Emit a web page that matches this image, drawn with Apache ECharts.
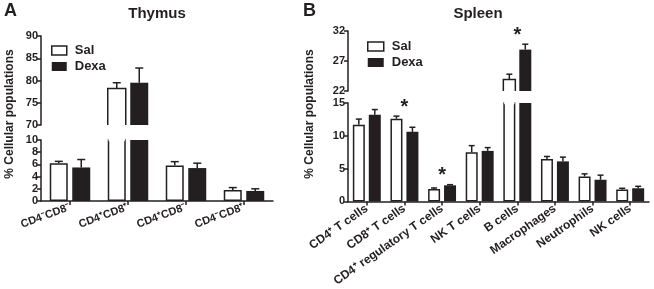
<!DOCTYPE html>
<html>
<head>
<meta charset="utf-8">
<script src="https://cdn.jsdelivr.net/npm/echarts@6/dist/echarts.min.js"></script>
<style>
html, body { margin: 0; padding: 0; background: #fff; }
#chart { width: 654px; height: 289px; }
</style>
</head>
<body>
<div id="chart"></div>
<script>
// Thymus (panel A)
var thymusCats = ['CD4\u207BCD8\u207B', 'CD4\u207ACD8\u207A', 'CD4\u207ACD8\u207B', 'CD4\u207BCD8\u207A'];
var thymusSal = [6.2, 78.2, 5.8, 1.8];
var thymusSalErr = [0.3, 1.3, 0.65, 0.4];
var thymusDexa = [5.5, 79.5, 5.4, 1.65];
var thymusDexaErr = [1.3, 3.3, 0.8, 0.35];
var thymusBreak = [10, 70];          // lower axis max, upper axis min
var thymusTicksLow = [0, 10, 2];     // min, max, interval
var thymusTicksHigh = [70, 90, 5];

// Spleen (panel B)
var spleenCats = ['CD4\u207A T cells', 'CD8\u207A T cells', 'CD4\u207A regulatory T cells', 'NK T cells',
                  'B cells', 'Macrophages', 'Neutrophils', 'NK cells'];
var spleenSal = [11.7, 12.6, 1.9, 7.5, 23.9, 6.45, 3.8, 1.8];
var spleenSalErr = [0.85, 0.4, 0.15, 1.0, 0.9, 0.4, 0.4, 0.2];
var spleenDexa = [13.2, 10.6, 2.45, 7.7, 28.9, 6.1, 3.3, 2.0];
var spleenDexaErr = [0.8, 0.7, 0.1, 0.5, 0.9, 0.65, 0.7, 0.3];
var spleenStars = [1, 2, 4];         // categories marked significant
var spleenBreak = [15, 22];
var spleenTicksLow = [0, 15, 5];
var spleenTicksHigh = [22, 32, 5];

var INK = '#231f20';
var FONT = 'Liberation Sans';

var myChart = echarts.init(document.getElementById('chart'));

var grids = [];
var xAxes = [];
var yAxes = [];
var series = [];
var overlays = []; // drawn last, on top of the bars

function yAxisOf(gi, ticks) {
    return {
        type: 'value', gridIndex: gi,
        min: ticks[0], max: ticks[1], interval: ticks[2],
        axisLine: { show: true, lineStyle: { color: INK, width: 1.5 } },
        axisTick: { show: true, length: 4, lineStyle: { color: INK, width: 1.5 } },
        axisLabel: { color: INK, fontFamily: FONT, fontWeight: 'bold', fontSize: 11, margin: 3 },
        splitLine: { show: false }
    };
}

function xAxisOf(gi, cats, show, rotate, fs) {
    return {
        type: 'category', gridIndex: gi, data: cats, show: show,
        axisLine: { show: show, lineStyle: { color: INK, width: 1.5 } },
        axisTick: { show: show, alignWithLabel: true, length: 4, lineStyle: { color: INK, width: 1.5 } },
        axisLabel: {
            show: show, interval: 0, rotate: rotate, margin: 6,
            color: INK, fontFamily: FONT, fontWeight: 'bold', fontSize: fs
        },
        splitLine: { show: false }
    };
}

// error bars: data item = [cat, mean, mean + err]
function errRender(offset, cap) {
    return function (params, api) {
        var a = api.coord([api.value(0), api.value(1)]);
        var b = api.coord([api.value(0), api.value(2)]);
        var x = a[0] + offset;
        var st = { stroke: INK, lineWidth: 1.5 };
        return {
            type: 'group',
            children: [
                { type: 'line', shape: { x1: x, y1: a[1], x2: x, y2: b[1] }, style: st },
                { type: 'line', shape: { x1: x - cap / 2, y1: b[1], x2: x + cap / 2, y2: b[1] }, style: st }
            ]
        };
    };
}

// upper part of a broken white bar: outline open at the bottom
function openBottomRender(offset, barW) {
    return function (params, api) {
        var cs = params.coordSys;
        var p = api.coord([api.value(0), api.value(1)]);
        var x0 = p[0] + offset - barW / 2;
        var x1 = p[0] + offset + barW / 2;
        var yb = cs.y + cs.height;
        return {
            type: 'polyline',
            shape: { points: [[x0, yb], [x0, p[1]], [x1, p[1]], [x1, yb]] },
            style: { stroke: INK, lineWidth: 1.5, fill: null }
        };
    };
}

// lower part of a broken white bar: wipe the lid at the axis top
function openTopRender(offset, barW) {
    return function (params, api) {
        var p = api.coord([api.value(0), api.value(1)]);
        var x0 = p[0] + offset - barW / 2 + 0.8;
        var x1 = p[0] + offset + barW / 2 - 0.8;
        return {
            type: 'line',
            shape: { x1: x0, y1: p[1], x2: x1, y2: p[1] },
            style: { stroke: '#fff', lineWidth: 2.5 }
        };
    };
}

function addPanel(cats, sal, salErr, dexa, dexaErr, brk, lowTicks, highTicks, gHigh, gLow, barW, gapPct, cap, rotate, fs) {
    var gi = grids.length;
    grids.push(gHigh, gLow);
    xAxes.push(xAxisOf(gi, cats, false, 0, fs), xAxisOf(gi + 1, cats, true, rotate, fs));
    yAxes.push(yAxisOf(gi, highTicks), yAxisOf(gi + 1, lowTicks));

    var offset = (barW + barW * gapPct / 100) / 2;
    var dexaStyle = { color: INK, borderWidth: 0 };

    [gi, gi + 1].forEach(function (ax, k) {
        var upper = k === 0;
        function pick(v) { return upper ? (v > brk[1] ? v : '-') : v; }
        series.push({
            name: 'Sal', type: 'bar', xAxisIndex: ax, yAxisIndex: ax,
            barWidth: barW, barGap: gapPct + '%', clip: true,
            itemStyle: upper
                ? { color: 'rgba(255,255,255,0)', borderWidth: 0 }
                : { color: '#fff', borderColor: INK, borderWidth: 1.5 },
            data: sal.map(pick), silent: true
        });
        series.push({
            name: 'Dexa', type: 'bar', xAxisIndex: ax, yAxisIndex: ax,
            barWidth: barW, barGap: gapPct + '%', clip: true,
            itemStyle: dexaStyle, data: dexa.map(pick), silent: true
        });
        if (upper) {
            overlays.push({
                type: 'custom', xAxisIndex: ax, yAxisIndex: ax, silent: true, z: 10,
                renderItem: openBottomRender(-offset, barW),
                data: sal.map(function (v, i) { return [i, v]; })
                         .filter(function (d) { return d[1] > brk[1]; })
            });
        } else {
            overlays.push({
                type: 'custom', xAxisIndex: ax, yAxisIndex: ax, silent: true, z: 10,
                renderItem: openTopRender(-offset, barW),
                data: sal.map(function (v, i) { return [i, brk[0]]; })
                         .filter(function (d, i) { return sal[i] > brk[0]; })
            });
        }
        function errData(m, e) {
            var out = [];
            for (var i = 0; i < m.length; i++) {
                var inUpper = m[i] > brk[1];
                if (inUpper === upper) out.push([i, m[i], m[i] + e[i]]);
            }
            return out;
        }
        series.push({
            type: 'custom', xAxisIndex: ax, yAxisIndex: ax, silent: true, z: 3,
            renderItem: errRender(-offset, cap), data: errData(sal, salErr)
        });
        series.push({
            type: 'custom', xAxisIndex: ax, yAxisIndex: ax, silent: true, z: 3,
            renderItem: errRender(offset, cap), data: errData(dexa, dexaErr)
        });
    });
    return gi;
}

addPanel(thymusCats, thymusSal, thymusSalErr, thymusDexa, thymusDexaErr,
    thymusBreak, thymusTicksLow, thymusTicksHigh,
    { left: 41, top: 36, width: 232, height: 89 },
    { left: 41, top: 140, width: 232, height: 61 },
    18, 25, 8, 20, 11);

var spleenGrid = addPanel(spleenCats, spleenSal, spleenSalErr, spleenDexa, spleenDexaErr,
    spleenBreak, spleenTicksLow, spleenTicksHigh,
    { left: 348, top: 31, width: 301, height: 60 },
    { left: 348, top: 103, width: 301, height: 99 },
    12, 33, 6, 35, 12);

// significance stars above the higher error bar
var starData = spleenStars.map(function (i) {
    var top = Math.max(spleenSal[i] + spleenSalErr[i], spleenDexa[i] + spleenDexaErr[i]);
    return [i, top];
});
[spleenGrid, spleenGrid + 1].forEach(function (ax, k) {
    series.push({
        type: 'custom', xAxisIndex: ax, yAxisIndex: ax, silent: true,
        data: starData.filter(function (d) { return (d[1] > spleenBreak[1]) === (k === 0); }),
        renderItem: function (params, api) {
            var p = api.coord([api.value(0), api.value(1)]);
            return {
                type: 'text',
                style: {
                    text: '*', x: p[0], y: p[1] + 1, align: 'center', verticalAlign: 'bottom',
                    fill: INK, font: 'bold 20px "' + FONT + '"'
                }
            };
        }
    });
});

series = series.concat(overlays);

function legendAt(left, top, w, h) {
    return {
        orient: 'vertical', left: left, top: top, itemWidth: w, itemHeight: h, itemGap: 3,
        selectedMode: false, icon: 'rect',
        data: [
            { name: 'Sal', itemStyle: { color: '#fff', borderColor: INK, borderWidth: 1.5 } },
            { name: 'Dexa', itemStyle: { color: INK } }
        ],
        textStyle: { color: INK, fontFamily: FONT, fontWeight: 'bold', fontSize: 13, lineHeight: 13, padding: [0, 0, 0, 3] }
    };
}

var option = {
    animation: false,
    backgroundColor: '#fff',
    grid: grids,
    xAxis: xAxes,
    yAxis: yAxes,
    legend: [legendAt(46, 39, 15, 9), legendAt(362, 35, 16, 9)],
    series: series,
    graphic: [
        { type: 'text', left: 4, top: 2, style: { text: 'A', fill: INK, font: 'bold 18px "' + FONT + '"' } },
        { type: 'text', left: 303, top: 2, style: { text: 'B', fill: INK, font: 'bold 18px "' + FONT + '"' } },
        { type: 'text', x: 157, y: 14, style: { text: 'Thymus', fill: INK, align: 'center', verticalAlign: 'middle', font: 'bold 15px "' + FONT + '"' } },
        { type: 'text', x: 478, y: 14, style: { text: 'Spleen', fill: INK, align: 'center', verticalAlign: 'middle', font: 'bold 15px "' + FONT + '"' } },
        { type: 'text', x: 10, y: 114, rotation: Math.PI / 2, style: { text: '% Cellular populations', fill: INK, align: 'center', verticalAlign: 'middle', font: 'bold 12px "' + FONT + '"' } },
        { type: 'text', x: 310, y: 114, rotation: Math.PI / 2, style: { text: '% Cellular populations', fill: INK, align: 'center', verticalAlign: 'middle', font: 'bold 12px "' + FONT + '"' } }
    ]
};

myChart.setOption(option);
</script>
</body>
</html>
